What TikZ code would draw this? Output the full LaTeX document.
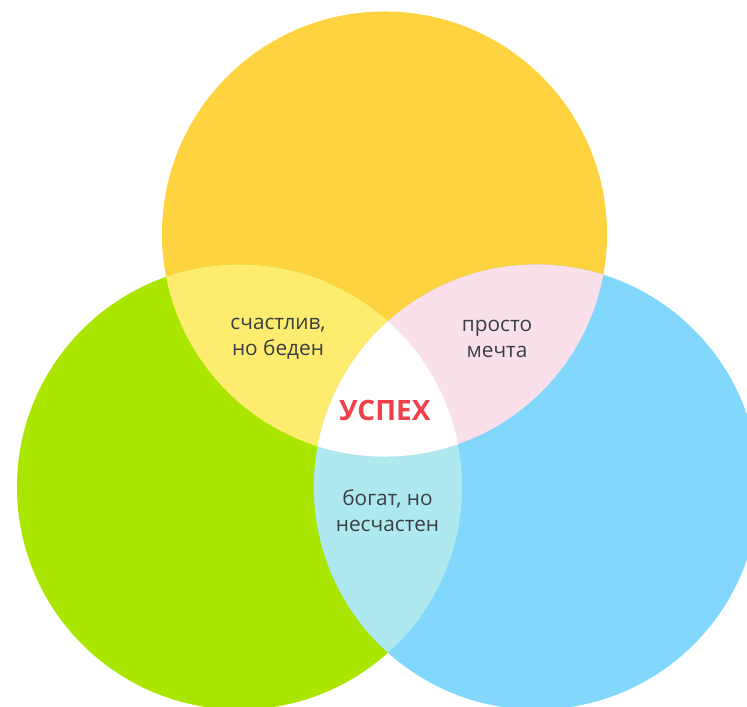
\documentclass[tikz,border=0pt]{standalone}
\usepackage{fontspec}
\setmainfont{Open Sans}
\usetikzlibrary{positioning}
\definecolor{sunny}{HTML}{FED33F}
\definecolor{lime}{HTML}{AAE600}
\definecolor{sky}{HTML}{82D7FD}
\definecolor{lemon}{HTML}{FEEC6E}
\definecolor{blush}{HTML}{FAE0EA}
\definecolor{aqua}{HTML}{AFE9F0}
\definecolor{ink}{HTML}{3A3F44}
\definecolor{hit}{HTML}{F0404A}
\tikzset{
	venn/.style={radius=166.9pt},
	lenstext/.style={align=center,text=ink,font=\fontsize{15.6}{19.5}\selectfont},
	goal/.style={text=hit,font=\fontsize{21}{25}\selectfont\bfseries}
}

\begin{document}
\begin{tikzpicture}[x=0.75pt,y=-0.75pt]
            \useasboundingbox (0,0) rectangle (747,707);
            \coordinate (money) at (384.5,234);
            \coordinate (heart) at (239.5,487);
            \coordinate (work) at (536.5,487);
            % three circles
            \fill[sunny] (money) circle[venn];
            \fill[lime] (heart) circle[venn];
            \fill[sky] (work) circle[venn];
            % overlaps
            \begin{scope}
                \clip (heart) circle[venn];
                \fill[lemon] (money) circle[venn];
                \fill[aqua] (work) circle[venn];
            \end{scope}
            \begin{scope}
                \clip (work) circle[venn];
                \fill[blush] (money) circle[venn];
                \clip (heart) circle[venn];
                \fill[white] (money) circle[venn];
            \end{scope}
            % texts
            \node[lenstext] (poor) at (278,339) {счастлив,\\но беден};
            \node[lenstext] (dream) at (497,339) {просто\\мечта};
            \node[goal] (win) at (385,410) {УСПЕХ};
            \node[lenstext] (sad) at (387.5,511) {богат, но\\несчастен};
        \end{tikzpicture}
\end{document}
